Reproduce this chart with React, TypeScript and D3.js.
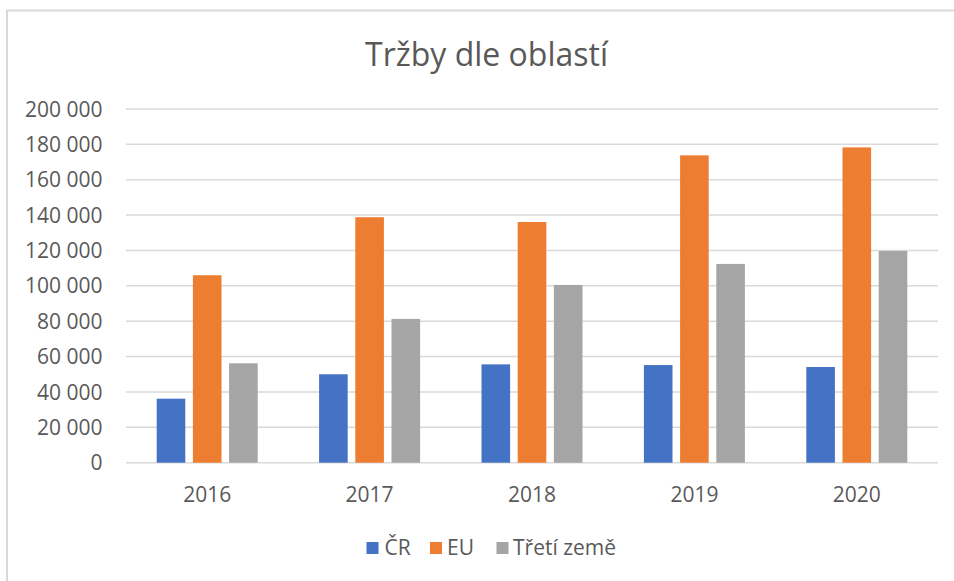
import React from "react";
import * as d3 from "d3";

const years = ["2016", "2017", "2018", "2019", "2020"];
const seriesNames = ["ČR", "EU", "Třetí země"];
const seriesColors = ["#4472C4", "#ED7D31", "#A5A5A5"];
const crValues = [36200, 50000, 55600, 55200, 54100];
const euValues = [106000, 138800, 136100, 173800, 178300];
const thirdValues = [56200, 81300, 100500, 112400, 119700];
const yTicks = [0, 20000, 40000, 60000, 80000, 100000, 120000, 140000, 160000, 180000, 200000];
const title = "Tržby dle oblastí";

const W = 954;
const H = 581;
const FONT = "'Open Sans', 'Noto Sans', sans-serif";
const TEXT = "#595959";

export default function App() {
  const values = [crValues, euValues, thirdValues];
  const x = d3.scaleBand<string>().domain(years).range([126, 938]).padding(0);
  const y = d3.scaleLinear().domain([0, 200000]).range([462.7, 109]);
  const locale = d3.formatLocale({ decimal: ",", thousands: " ", grouping: [3], currency: ["", " Kč"] });
  const fmt = locale.format(",d");
  const groupHalf = 50.5;

  const legendItems = [
    { sx: 366.5, tx: 384.5 },
    { sx: 430, tx: 447 },
    { sx: 496.5, tx: 513 },
  ];

  return (
    <svg width={W} height={H} style={{ position: "absolute", left: 0, top: 0 }} fontFamily={FONT}>
      <rect x={0} y={0} width={W} height={H} fill="#fff" />
      <rect x={7} y={10.5} width={1000} height={700} fill="none" stroke="#d9d9d9" strokeWidth={2} />
      <text x={486.5} y={66} textAnchor="middle" fontSize={32} fill={TEXT}>
        {title}
      </text>
      {yTicks.map((t) => (
        <g key={t}>
          <line x1={126} x2={938} y1={y(t)} y2={y(t)} stroke="#d9d9d9" strokeWidth={1.5} />
          <text x={102.5} y={y(t)} dy="0.36em" textAnchor="end" fontSize={21} fill={TEXT}>
            {fmt(t)}
          </text>
        </g>
      ))}
      {years.map((yr, i) => {
        const c = (x(yr) as number) + x.bandwidth() / 2;
        const x1 = d3.scaleBand<string>().domain(seriesNames).range([c - groupHalf, c + groupHalf]).paddingInner(0.21);
        return (
          <g key={yr}>
            {seriesNames.map((s, j) => (
              <rect
                key={s}
                x={x1(s)}
                y={y(values[j][i])}
                width={x1.bandwidth()}
                height={y(0) - y(values[j][i])}
                fill={seriesColors[j]}
              />
            ))}
            <text x={c} y={501.5} textAnchor="middle" fontSize={21} fill={TEXT}>
              {yr}
            </text>
          </g>
        );
      })}
      {seriesNames.map((s, j) => (
        <g key={s}>
          <rect x={legendItems[j].sx} y={542} width={12} height={12} fill={seriesColors[j]} />
          <text x={legendItems[j].tx} y={554.5} fontSize={21} fill={TEXT}>
            {s}
          </text>
        </g>
      ))}
    </svg>
  );
}
